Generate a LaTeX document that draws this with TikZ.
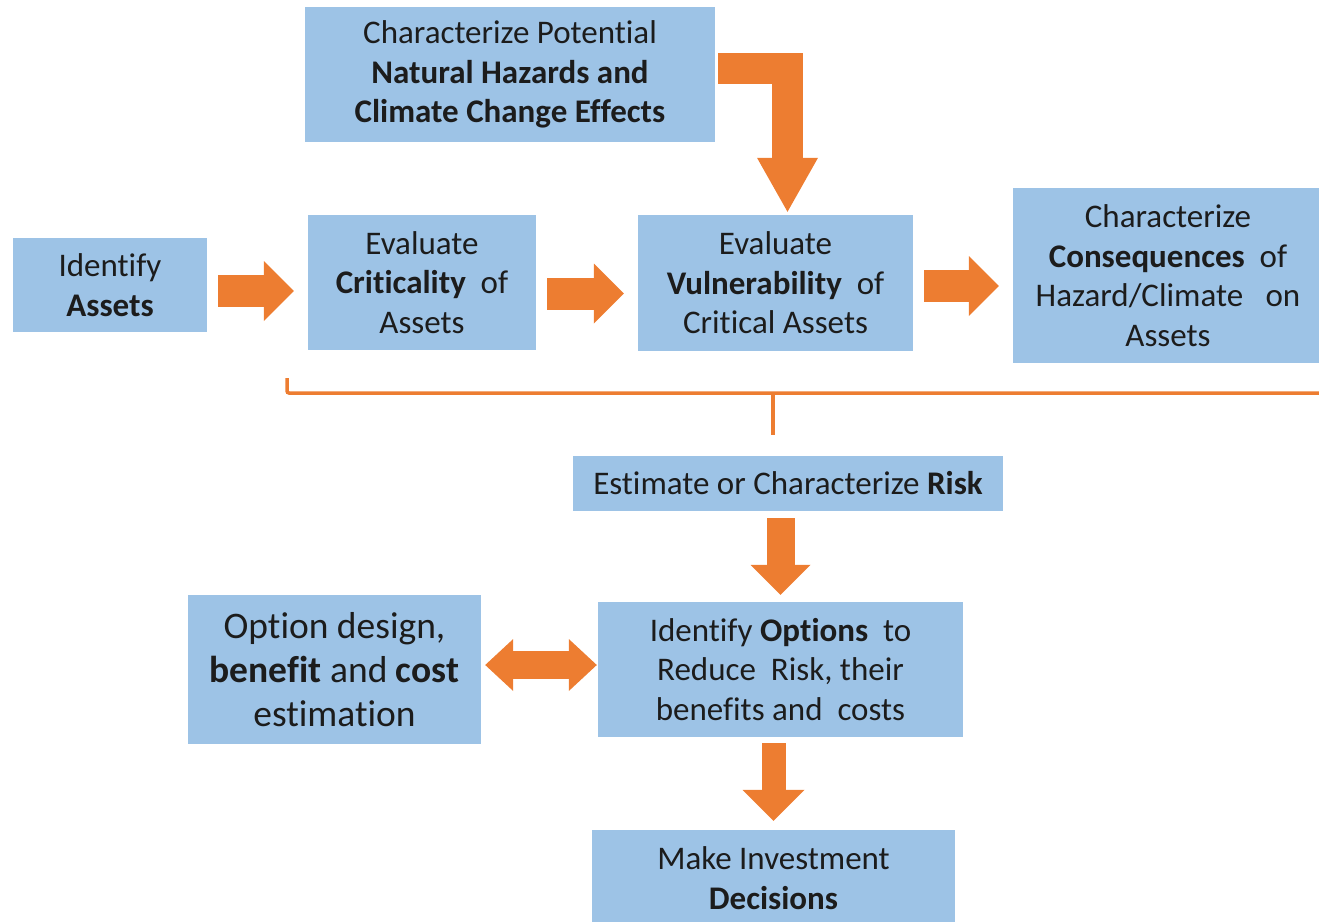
\documentclass[tikz,border=0pt]{standalone}
\usepackage{fontspec}
\setmainfont{Carlito}[Ligatures=NoCommon]
\usetikzlibrary{arrows.meta}
\definecolor{boxblue}{HTML}{9DC3E6}
\definecolor{arrorange}{HTML}{ED7D31}
\definecolor{ink}{HTML}{1C1C1C}

\begin{document}
\begin{tikzpicture}
  [x=1pt,y=-1pt,
   every node/.style={fill=boxblue,text=ink,align=center,inner sep=0pt,
     font=\fontsize{33}{39.5}\selectfont},
   bigarrow/.style n args={3}{draw=arrorange,line width=#1,
     -{Triangle[width=#2,length=#3,line width=0pt]}},
   twinarrow/.style={draw=arrorange,line width=28pt,
     {Triangle[width=52pt,length=28pt,line width=0pt]}-{Triangle[width=52pt,length=28pt,line width=0pt]}}]
  \useasboundingbox (0,0) rectangle (1319,921);

  \node (hazard) at (510,74.5) [minimum width=410,minimum height=135]
    {Characterize Potential\\\textbf{Natural Hazards and}\\\textbf{Climate Change Effects}};
  \node (assets) at (110,285) [minimum width=194,minimum height=94]
    {Identify\\\textbf{Assets}};
  \node (crit) at (422,282.5) [minimum width=228,minimum height=135]
    {Evaluate\\\textbf{Criticality}\ \ of\\Assets};
  \node (vuln) at (775.5,283) [minimum width=275,minimum height=136]
    {Evaluate\\\textbf{Vulnerability}\ \ of\\Critical Assets};
  \node (conseq) at (1168,275.5) [minimum width=310,minimum height=175]
    {Characterize\\\textbf{Consequences}\ \ of\\Hazard/Climate\ \ \ on\\Assets};
  \node (risk) at (788,483.5) [minimum width=430,minimum height=55]
    {Estimate or Characterize \textbf{Risk}};
  \node (options) at (780.5,669.5) [minimum width=365,minimum height=135]
    {Identify \textbf{Options}\ \ to\\Reduce\ \ Risk, their\\benefits and\ \ costs};
  \node (design) at (334.5,669.5) [minimum width=293,minimum height=149,
    font=\fontsize{37.5}{44}\selectfont]
    {Option design,\\\textbf{benefit} and \textbf{cost}\\estimation};
  \node (decide) at (773.5,878) [minimum width=363,minimum height=96]
    {Make Investment\\\textbf{Decisions}};

  % arrows along the top row
  \foreach \from/\to/\dy in {assets/crit/-6pt,crit/vuln/-11pt,vuln/conseq/-3pt}
    \draw[bigarrow={32pt}{60pt}{30pt},shorten <=11pt,shorten >=14pt]
      ([yshift=\dy]\from.east) -- ([yshift=\dy]\from.east -| \to.west);

  % hazards feed into the vulnerability step
  \coordinate (bend) at (787.5,68);
  \draw[bigarrow={31pt}{61pt}{54pt},shorten <=3pt,shorten >=3pt]
    (hazard.east |- bend) -- (bend) -- (bend |- vuln.north);

  % bracket gathering the steps into risk
  \coordinate (brL) at (287,378);
  \coordinate (brR) at (1319,393);
  \coordinate (stem) at (773,435);
  \draw[arrorange,line width=3.5pt,rounded corners=2pt] (brL) |- (brR);
  \draw[arrorange,line width=3.5pt] (stem |- brR) -- (stem);

  \draw[bigarrow={28pt}{60pt}{30pt},shorten <=7pt,shorten >=7pt]
    (options.north |- risk.south) -- (options.north);
  \draw[bigarrow={24pt}{62pt}{31pt},shorten <=6pt,shorten >=9pt]
    (decide.north |- options.south) -- (decide.north);
  \draw[twinarrow,shorten <=4pt,shorten >=1pt]
    ([yshift=4.5pt]design.east) -- ([yshift=4.5pt]design.east -| options.west);

\end{tikzpicture}
\end{document}
